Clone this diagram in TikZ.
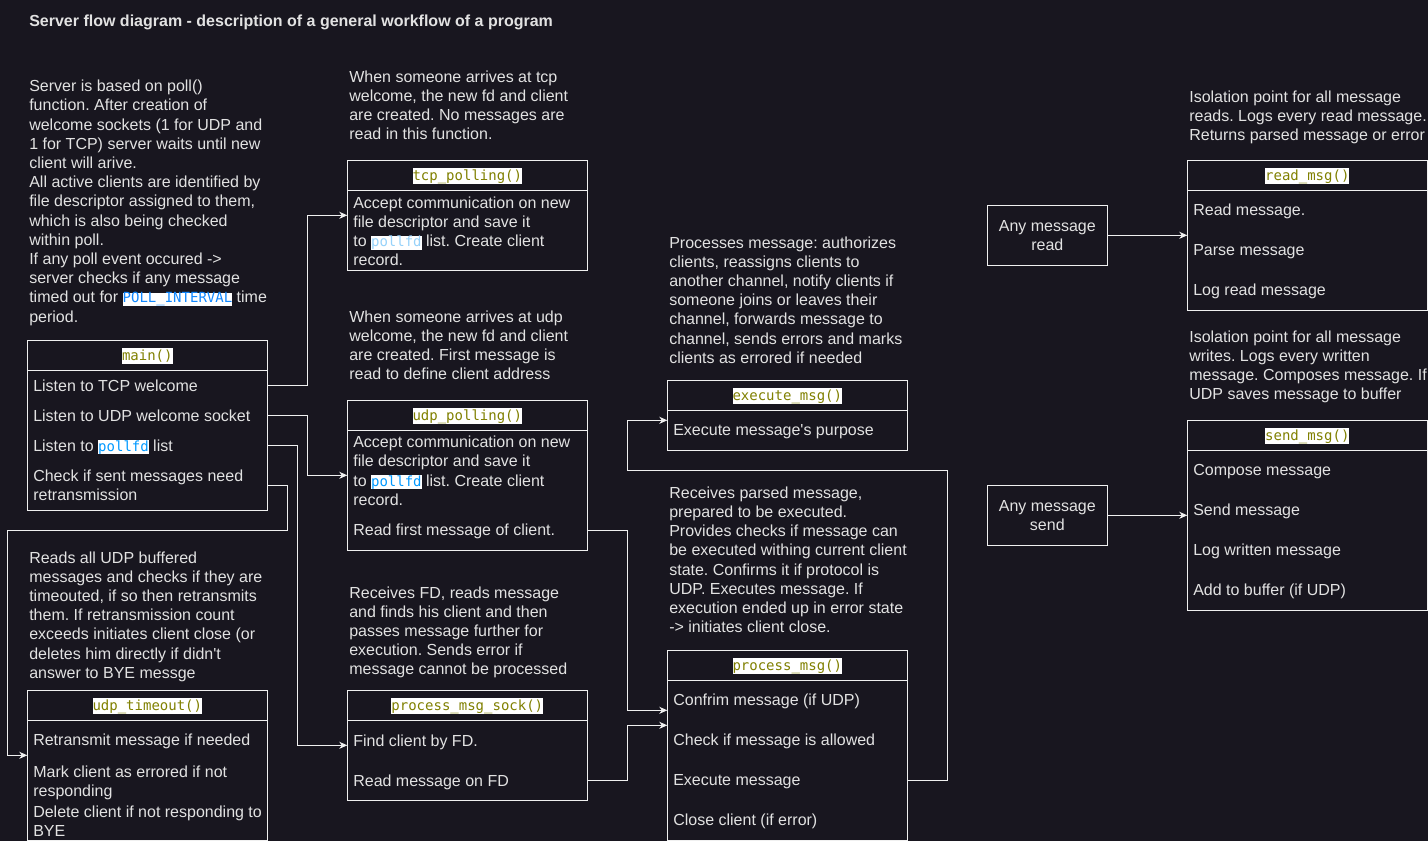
\documentclass[tikz,border=0pt]{standalone}
\usepackage{fontspec}
\setmainfont{Liberation Sans}[Ligatures=TeXOff]
\newfontfamily\codefont{DejaVu Sans Mono}
\usetikzlibrary{calc,arrows.meta}
\definecolor{bgcol}{RGB}{24,22,31}
\definecolor{lncol}{RGB}{240,240,240}
\definecolor{txtcol}{RGB}{226,226,226}
\definecolor{codeolive}{RGB}{128,128,0}
\definecolor{pollblue}{RGB}{0,153,255}
\definecolor{pollblueb}{RGB}{17,136,255}
\definecolor{pollbluec}{RGB}{150,210,250}
\newcommand\bodyfont{\fontsize{16}{19.2}\selectfont\frenchspacing}
\newcommand\fnhead[1]{{\setlength{\fboxsep}{0pt}\colorbox{white}{\rule[-3.3pt]{0pt}{16pt}\codefont\fontsize{14}{16}\selectfont\color{codeolive}#1}}}
\newcommand\inl[2]{{\setlength{\fboxsep}{0pt}\colorbox{white}{\rule[-2.7pt]{0pt}{12.7pt}\codefont\fontsize{14}{16}\selectfont\color{#1}#2}}}
\frenchspacing
\begin{document}
\begin{tikzpicture}[x=1pt,y=-1pt,
  ln/.style={draw=lncol,line width=1pt},
  arr/.style={ln,-{Stealth[length=8pt,width=7pt,inset=2.5pt]}},
  fnbox/.style={draw=lncol,line width=1pt,inner sep=0pt,outer sep=0pt,anchor=north west,minimum width=240pt},
  smbox/.style={draw=lncol,line width=1pt,inner sep=0pt,outer sep=0pt,anchor=north west,minimum width=120pt,minimum height=60pt},
  txt/.style={text=txtcol,font=\bodyfont,inner sep=0pt,outer sep=0pt},
  row/.style={txt,anchor=base west},
  mtxt/.style={txt,align=left,anchor=north west},
  head/.style={inner sep=0pt,outer sep=0pt,anchor=base}]
\fill[bgcol] (0,0) rectangle (1428,841);
\useasboundingbox (0,0) rectangle (1428,841);

% title
\node[txt,anchor=base west,font=\bfseries\bodyfont] (title) at (29.3,26) {Server flow diagram - description of a general workflow of a program};

% descriptions
\node[mtxt] (dmain) at (29.3,78.3) {\strut Server is based on poll()\\function. After creation of\\welcome sockets (1 for UDP and\\1 for TCP) server waits until new\\client will arive.\\All active clients are identified by\\file descriptor assigned to them,\\which is also being checked\\within poll.\\If any poll event occured ->\\server checks if any message\\timed out for \inl{pollblueb}{POLL\_INTERVAL} time\\period.};
\node[mtxt] (dtcp) at (349.3,68.6) {\strut When someone arrives at tcp\\welcome, the new fd and client\\are created. No messages are\\read in this function.};
\node[mtxt] (dudp) at (349.3,308.6) {\strut When someone arrives at udp\\welcome, the new fd and client\\are created. First message is\\read to define client address};
\node[mtxt] (dtmo) at (29.3,549.6) {\strut Reads all UDP buffered\\messages and checks if they are\\timeouted, if so then retransmits\\them. If retransmission count\\exceeds initiates client close (or\\deletes him directly if didn't\\answer to BYE messge};
\node[mtxt] (dpms) at (349.3,584.6) {\strut Receives FD, reads message\\and finds his client and then\\passes message further for\\execution. Sends error if\\message cannot be processed};
\node[mtxt] (dexec) at (669.3,234.6) {\strut Processes message: authorizes\\clients, reassigns clients to\\another channel, notify clients if\\someone joins or leaves their\\channel, forwards message to\\channel, sends errors and marks\\clients as errored if needed};
\node[mtxt] (dproc) at (669.3,484.9) {\strut Receives parsed message,\\prepared to be executed.\\Provides checks if message can\\be executed withing current client\\state. Confirms it if protocol is\\UDP. Executes message. If\\execution ended up in error state\\-> initiates client close.};
\node[mtxt] (dread) at (1189.3,88.6) {\strut Isolation point for all message\\reads. Logs every read message.\\Returns parsed message or error};
\node[mtxt] (dsend) at (1189.3,328.6) {\strut Isolation point for all message\\writes. Logs every written\\message. Composes message. If\\UDP saves message to buffer};

% main()
\node[fnbox,minimum height=170pt] (main) at (27.3,340.3) {};
\draw[ln] ($(main.north west)+(0,30)$) -- ($(main.north east)+(0,30)$);
\node[head] (mainh) at (147.3,360.3) {\fnhead{main()}};
\node[row] (m1) at (33.3,391) {Listen to TCP welcome};
\node[row] (m2) at (33.3,421) {Listen to UDP welcome socket};
\node[row] (m3) at (33.3,451) {Listen to \inl{pollblue}{pollfd} list};
\node[mtxt] (m4) at (33.3,467.6) {\strut Check if sent messages need\\retransmission};

% tcp_polling()
\node[fnbox,minimum height=110pt] (tcp) at (347.3,160.3) {};
\draw[ln] ($(tcp.north west)+(0,30)$) -- ($(tcp.north east)+(0,30)$);
\node[head] (tcph) at (467.3,180.3) {\fnhead{tcp\_polling()}};
\node[mtxt] (t1) at (353.3,194.9) {\strut Accept communication on new\\file descriptor and save it\\to \inl{pollbluec}{pollfd} list. Create client\\record.};

% udp_polling()
\node[fnbox,minimum height=150pt] (udp) at (347.3,400.3) {};
\draw[ln] ($(udp.north west)+(0,30)$) -- ($(udp.north east)+(0,30)$);
\node[head] (udph) at (467.3,420.3) {\fnhead{udp\_polling()}};
\node[mtxt] (u1) at (353.3,434.3) {\strut Accept communication on new\\file descriptor and save it\\to \inl{pollblue}{pollfd} list. Create client\\record.};
\node[row] (u2) at (353.3,535.7) {Read first message of client.};

% process_msg_sock()
\node[fnbox,minimum height=110pt] (pms) at (347.3,690.3) {};
\draw[ln] ($(pms.north west)+(0,30)$) -- ($(pms.north east)+(0,30)$);
\node[head] (pmsh) at (467.3,710.3) {\fnhead{process\_msg\_sock()}};
\node[row] (p1) at (353.3,746) {Find client by FD.};
\node[row] (p2) at (353.3,786) {Read message on FD};

% udp_timeout()
\node[fnbox,minimum height=150pt] (tmo) at (27.3,690.3) {};
\draw[ln] ($(tmo.north west)+(0,30)$) -- ($(tmo.north east)+(0,30)$);
\node[head] (tmoh) at (147.3,710.3) {\fnhead{udp\_timeout()}};
\node[row] (o1) at (33.3,745.7) {Retransmit message if needed};
\node[mtxt] (o2) at (33.3,763.9) {\strut Mark client as errored if not\\responding};
\node[mtxt] (o3) at (33.3,804.3) {\strut Delete client if not responding to\\BYE};

% execute_msg()
\node[fnbox,minimum height=70pt] (exec) at (667.3,380.3) {};
\draw[ln] ($(exec.north west)+(0,30)$) -- ($(exec.north east)+(0,30)$);
\node[head] (exech) at (787.3,400.3) {\fnhead{execute\_msg()}};
\node[row] (e1) at (673.3,435.7) {Execute message's purpose};

% process_msg()
\node[fnbox,minimum height=190pt] (proc) at (667.3,650.3) {};
\draw[ln] ($(proc.north west)+(0,30)$) -- ($(proc.north east)+(0,30)$);
\node[head] (proch) at (787.3,670.3) {\fnhead{process\_msg()}};
\node[row] (r1) at (673.3,705.7) {Confrim message (if UDP)};
\node[row] (r2) at (673.3,745.7) {Check if message is allowed};
\node[row] (r3) at (673.3,785.7) {Execute message};
\node[row] (r4) at (673.3,825.7) {Close client (if error)};

% any message read / send
\node[smbox] (anyr) at (987.3,205.3) {};
\node[txt,align=center,anchor=north] (anyrt) at (1047.3,217.6) {\strut Any message\\read};
\node[smbox] (anys) at (987.3,485.3) {};
\node[txt,align=center,anchor=north] (anyst) at (1047.3,497.6) {\strut Any message\\send};

% read_msg()
\node[fnbox,minimum height=150pt] (rd) at (1187.3,160.3) {};
\draw[ln] ($(rd.north west)+(0,30)$) -- ($(rd.north east)+(0,30)$);
\node[head] (rdh) at (1307.3,180.3) {\fnhead{read\_msg()}};
\node[row] (rd1) at (1193.3,215.7) {Read message.};
\node[row] (rd2) at (1193.3,255.7) {Parse message};
\node[row] (rd3) at (1193.3,295.7) {Log read message};

% send_msg()
\node[fnbox,minimum height=190pt] (sd) at (1187.3,420.3) {};
\draw[ln] ($(sd.north west)+(0,30)$) -- ($(sd.north east)+(0,30)$);
\node[head] (sdh) at (1307.3,440.3) {\fnhead{send\_msg()}};
\node[row] (sd1) at (1193.3,475.7) {Compose message};
\node[row] (sd2) at (1193.3,515.7) {Send message};
\node[row] (sd3) at (1193.3,555.7) {Log written message};
\node[row] (sd4) at (1193.3,595.7) {Add to buffer (if UDP)};

% connectors
\draw[arr] ($(main.north east)+(0,45)$) -- ++(40,0) |- ($(tcp.north west)+(0,55)$);
\draw[arr] ($(main.north east)+(0,75)$) -- ++(40,0) |- ($(udp.north west)+(0,75)$);
\draw[arr] ($(main.north east)+(0,105)$) -- ++(30,0) |- ($(pms.north west)+(0,55)$);
\draw[arr] ($(main.north east)+(0,145)$) -- ++(20,0) -- ++(0,45) -- ++(-280,0) |- ($(tmo.north west)+(0,65)$);
\draw[arr] ($(udp.north east)+(0,130)$) -- ++(40,0) |- ($(proc.north west)+(0,60)$);
\draw[arr] ($(pms.north east)+(0,90)$) -- ++(40,0) |- ($(proc.north west)+(0,75)$);
\draw[arr] ($(proc.north east)+(0,130)$) -- ++(40,0) -- ++(0,-310) -- ++(-320,0) |- ($(exec.north west)+(0,40)$);
\draw[arr] (anyr.east) -- (anyr.east -| rd.west);
\draw[arr] (anys.east) -- (anys.east -| sd.west);
\end{tikzpicture}
\end{document}
